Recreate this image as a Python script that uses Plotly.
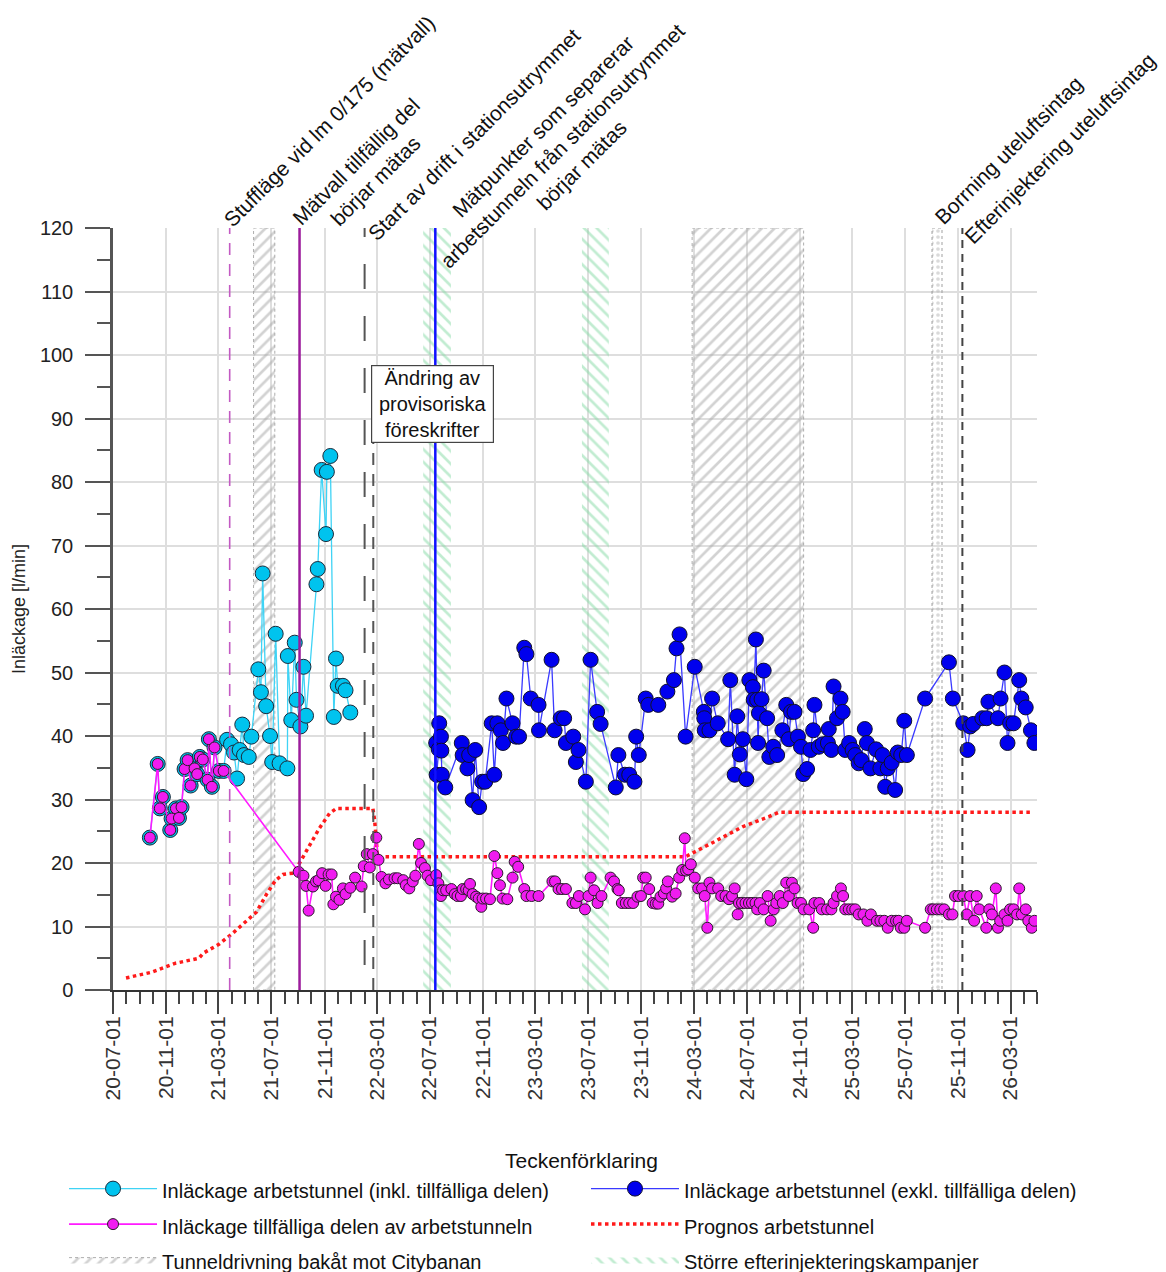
import plotly.graph_objects as go

# ------------------------------------------------------------------ data
inkl_dates = ["2020-09-24","2020-10-12","2020-10-17","2020-10-24","2020-11-10","2020-11-13","2020-11-23","2020-11-30",
              "2020-12-06","2020-12-13","2020-12-20","2020-12-27","2021-01-05","2021-01-11","2021-01-17","2021-01-24",
              "2021-02-04","2021-02-07","2021-02-14","2021-02-20","2021-03-02","2021-03-13",
              "2021-03-21","2021-03-30","2021-04-06","2021-04-13","2021-04-19","2021-04-25","2021-04-29","2021-05-10",
              "2021-05-16","2021-06-01","2021-06-07","2021-06-11","2021-06-19","2021-06-28","2021-07-03","2021-07-11",
              "2021-07-20","2021-08-07","2021-08-08","2021-08-16","2021-08-24","2021-08-28","2021-09-06","2021-09-13",
              "2021-09-19","2021-10-13","2021-10-16","2021-10-25","2021-11-04","2021-11-06","2021-11-14","2021-11-22",
              "2021-11-27","2021-12-01","2021-12-13","2021-12-19","2021-12-30"]
inkl_vals = [24.0,35.6,28.6,30.4,25.2,27.0,28.6,27.1,28.8,34.8,36.2,32.2,34.9,34.0,36.7,36.3,33.1,39.5,32.0,38.2,34.5,34.5,
             39.4,38.7,37.4,33.3,37.8,41.8,37.0,36.7,39.9,50.5,46.9,65.6,44.7,40.0,35.9,56.1,35.7,34.9,52.6,42.5,54.7,
             45.7,41.5,50.9,43.2,63.9,66.3,81.9,71.8,81.6,84.1,43.0,52.2,47.9,47.9,47.2,43.7]

tillf_dates = ["2020-09-24","2020-10-12","2020-10-17","2020-10-24","2020-11-10","2020-11-13","2020-11-23","2020-11-30",
               "2020-12-06","2020-12-13","2020-12-20","2020-12-27","2021-01-05","2021-01-11","2021-01-17","2021-01-24",
               "2021-02-04","2021-02-07","2021-02-14","2021-02-20","2021-03-02","2021-03-13",
               "2021-09-02","2021-09-13","2021-09-19","2021-09-25","2021-10-05","2021-10-12","2021-10-18","2021-10-26",
               "2021-11-03","2021-11-10","2021-11-17","2021-11-21","2021-11-27","2021-12-05","2021-12-13","2021-12-19",
               "2021-12-30","2022-01-10","2022-01-25","2022-01-30","2022-02-06","2022-02-13","2022-02-20","2022-02-28",
               "2022-03-05","2022-03-12","2022-03-21","2022-03-29","2022-04-11","2022-04-18","2022-05-01","2022-05-07",
               "2022-05-15","2022-05-23","2022-05-29","2022-06-06","2022-06-11","2022-06-20","2022-06-26","2022-07-04",
               "2022-07-16","2022-07-21","2022-07-26","2022-07-27","2022-08-01","2022-08-08","2022-08-20","2022-08-28",
               "2022-09-03","2022-09-11","2022-09-15","2022-09-23","2022-09-29","2022-10-02","2022-10-08","2022-10-16",
               "2022-10-22","2022-10-28","2022-10-31","2022-11-08","2022-11-17","2022-11-27","2022-12-04","2022-12-10",
               "2022-12-16","2022-12-27","2023-01-08","2023-01-13","2023-01-21","2023-02-04","2023-02-09","2023-02-21",
               "2023-03-09","2023-04-10","2023-04-16","2023-04-24","2023-05-02","2023-05-11","2023-05-26","2023-06-03",
               "2023-06-10","2023-06-24","2023-07-02","2023-07-07","2023-07-15","2023-07-23","2023-08-01","2023-08-22",
               "2023-08-30","2023-09-07","2023-09-10","2023-09-17","2023-09-26","2023-10-04","2023-10-13","2023-10-23",
               "2023-10-31","2023-11-05","2023-11-11","2023-11-19","2023-11-27","2023-12-04","2023-12-10","2023-12-15",
               "2023-12-23","2023-12-28","2024-01-01","2024-01-11","2024-01-19","2024-01-27","2024-02-03","2024-02-09",
               "2024-02-12","2024-02-17","2024-02-23","2024-03-03","2024-03-11","2024-03-20","2024-03-26","2024-04-01",
               "2024-04-06","2024-04-12","2024-04-26","2024-05-03","2024-05-13","2024-05-21","2024-05-28","2024-06-03",
               "2024-06-10","2024-06-13","2024-06-20","2024-06-28","2024-07-06","2024-07-13","2024-07-21","2024-07-25",
               "2024-07-31","2024-08-09","2024-08-18","2024-08-25","2024-09-01","2024-09-07","2024-09-15","2024-09-22",
               "2024-09-30","2024-10-06","2024-10-13","2024-10-19","2024-10-26","2024-11-03","2024-11-09","2024-11-22",
               "2024-12-01","2024-12-04","2024-12-15","2024-12-21","2025-01-02","2025-01-12","2025-01-17","2025-01-25",
               "2025-02-03","2025-02-08","2025-02-13","2025-02-21","2025-03-01","2025-03-08","2025-03-16","2025-03-27",
               "2025-04-05","2025-04-13","2025-04-27","2025-05-05","2025-05-14","2025-05-22","2025-05-31","2025-06-10",
               "2025-06-16","2025-06-21","2025-06-29","2025-07-05","2025-08-16","2025-08-29","2025-09-04","2025-09-12",
               "2025-09-20","2025-09-29","2025-10-10","2025-10-18","2025-10-24","2025-11-01","2025-11-12","2025-11-20",
               "2025-11-28","2025-12-07","2025-12-13","2025-12-19","2026-01-04","2026-01-11","2026-01-17","2026-01-26",
               "2026-01-31","2026-02-05","2026-02-15","2026-02-22","2026-02-28","2026-03-08","2026-03-16","2026-03-21",
               "2026-03-27","2026-04-05","2026-04-11","2026-04-19","2026-04-25"]
tillf_vals = [24.0,35.6,28.6,30.4,25.2,27.0,28.6,27.1,28.8,34.8,36.2,32.2,34.9,34.0,36.7,36.3,33.1,39.5,32.0,38.2,34.5,34.5,
              18.6,18.0,16.4,12.5,16.3,17.1,17.3,18.4,16.4,18.2,18.2,13.5,14.7,14.2,16.0,15.1,
              16.1,17.7,16.3,19.5,21.4,19.3,21.4,24.0,20.5,17.8,16.8,17.4,17.6,17.6,17.3,16.5,
              16.0,17.1,18.0,23.0,20.0,19.2,18.0,17.3,18.1,16.8,15.7,14.8,15.7,15.7,15.9,15.1,
              14.8,14.8,15.9,15.9,15.7,16.7,15.1,14.7,14.4,13.1,14.4,14.4,14.3,21.1,18.4,16.5,
              14.4,14.3,17.7,20.2,19.4,15.9,14.8,14.8,14.8,17.1,17.1,15.9,15.9,15.9,13.7,13.7,
              14.8,12.7,14.8,17.7,15.7,13.7,14.8,17.7,17.1,15.9,15.7,13.7,13.7,13.7,13.7,14.7,
              14.8,17.7,17.7,15.9,13.7,13.6,13.6,14.7,15.2,16.0,17.1,14.7,15.2,17.7,18.9,23.9,
              18.8,19.0,19.8,17.7,16.0,16.0,14.8,9.8,16.9,16.0,16.0,14.8,14.8,14.3,14.8,16.0,
              11.9,13.7,13.7,13.7,13.7,13.7,13.7,12.7,13.7,12.7,14.8,10.9,12.7,13.7,14.8,13.7,
              16.9,14.8,16.9,16.0,13.7,13.7,12.7,12.7,9.8,13.7,13.7,12.7,12.7,12.7,13.7,14.8,
              16.0,14.8,12.7,12.7,12.7,12.7,11.9,11.9,10.9,11.9,10.9,10.9,10.9,9.8,10.9,10.9,
              10.9,9.8,9.8,10.9,9.8,12.7,12.7,12.7,12.7,12.7,11.9,11.9,14.8,14.8,14.8,11.9,
              14.8,10.9,14.8,12.7,9.8,12.7,11.9,16.0,9.8,10.9,11.9,10.9,12.7,12.7,11.9,16.0,
              11.9,12.7,10.9,9.8,10.9]

exkl_dates = ["2022-07-16","2022-07-17","2022-07-22","2022-07-23","2022-07-27","2022-07-28","2022-07-29","2022-08-06",
              "2022-09-13","2022-09-15","2022-09-26","2022-09-30","2022-10-08","2022-10-14","2022-10-23","2022-10-30",
              "2022-11-06","2022-11-21","2022-11-27","2022-12-04","2022-12-12","2022-12-17","2022-12-25","2023-01-08",
              "2023-01-16","2023-01-23","2023-02-04","2023-02-09","2023-02-19","2023-03-09","2023-03-10","2023-04-08",
              "2023-04-15","2023-04-29","2023-05-07","2023-05-11","2023-05-28","2023-06-03","2023-06-09","2023-06-26",
              "2023-07-07","2023-07-22","2023-07-30","2023-09-03","2023-09-09","2023-09-24","2023-10-04","2023-10-16",
              "2023-10-20","2023-10-26","2023-11-11","2023-11-17","2023-12-10","2023-12-31","2024-01-15","2024-01-21",
              "2024-01-28","2024-02-11","2024-03-03","2024-03-24","2024-03-25","2024-03-26","2024-04-06","2024-04-12",
              "2024-04-25","2024-05-19","2024-05-24","2024-06-03","2024-06-09","2024-06-15","2024-06-22","2024-06-30",
              "2024-07-07","2024-07-15","2024-07-17","2024-07-22","2024-07-25","2024-07-27","2024-07-29","2024-08-04",
              "2024-08-09","2024-08-17","2024-08-22","2024-08-31","2024-09-09","2024-09-21","2024-09-30","2024-10-06",
              "2024-10-11","2024-10-19","2024-10-27","2024-11-03","2024-11-08","2024-11-17","2024-11-25","2024-12-01",
              "2024-12-04","2024-12-14","2024-12-23","2025-01-04","2025-01-06","2025-01-12","2025-01-17","2025-01-25",
              "2025-02-02","2025-02-07","2025-02-13","2025-02-22","2025-03-02","2025-03-08","2025-03-16","2025-03-22",
              "2025-03-30","2025-04-04","2025-04-12","2025-04-25","2025-05-05","2025-05-10","2025-05-16","2025-05-22",
              "2025-05-31","2025-06-08","2025-06-14","2025-06-22","2025-06-29","2025-07-05","2025-08-16","2025-10-10",
              "2025-10-19","2025-11-12","2025-11-22","2025-11-28","2025-12-05","2025-12-26","2026-01-05","2026-01-09",
              "2026-01-31","2026-02-06","2026-02-15","2026-02-22","2026-02-28","2026-03-08","2026-03-21","2026-03-26",
              "2026-04-05","2026-04-17","2026-04-25"]
exkl_vals = [38.9,33.9,37.9,42.0,39.9,37.7,33.9,31.9,38.9,37.0,34.9,37.0,29.9,37.8,28.8,32.8,
             32.8,42.0,33.9,42.0,40.9,38.9,45.9,42.0,39.9,39.9,53.9,52.9,45.9,44.9,40.9,52.0,
             40.9,42.8,42.8,38.9,39.9,35.9,37.8,32.8,52.0,43.8,41.9,31.9,37.0,33.9,33.9,32.8,
             39.9,37.0,45.9,44.9,44.9,47.0,48.8,53.8,56.0,39.9,50.9,43.8,42.8,40.9,40.9,45.9,
             42.0,39.5,48.8,33.9,43.1,37.1,39.5,33.2,48.8,47.7,45.7,55.2,45.7,38.9,43.6,45.8,
             50.3,42.8,36.7,38.3,37.0,40.9,44.9,39.5,43.8,43.8,39.9,38.3,34.0,34.8,37.8,40.9,
             44.9,38.3,38.7,38.9,41.1,37.8,47.8,42.8,45.9,43.8,37.8,38.9,37.8,37.0,35.7,36.2,
             41.1,38.9,34.9,37.9,34.9,37.0,32.0,34.9,35.8,31.5,37.4,37.0,42.4,37.0,45.9,51.6,
             45.9,42.0,37.8,41.5,41.9,42.8,42.8,45.4,42.8,45.9,50.0,38.9,42.0,42.0,48.8,45.9,
             44.5,40.9,38.9]

prognos_dates = ["2020-07-31","2020-09-28","2020-11-21","2021-01-15","2021-01-25","2021-03-02","2021-04-04",
                 "2021-05-07","2021-05-28","2021-06-20","2021-07-11","2021-07-28","2021-08-20","2021-09-04",
                 "2021-09-27","2021-10-20","2021-11-12","2021-11-28","2022-02-20","2022-02-24","2022-03-03",
                 "2024-02-11","2024-04-13","2024-06-21","2024-08-21","2024-09-13","2026-04-18"]
prognos_vals = [1.9,2.8,4.2,5.0,5.8,7.2,9.0,11.1,12.3,15.1,17.3,18.2,18.4,20.0,22.8,25.5,27.8,28.6,28.6,26.8,
                21.0,21.0,23.2,25.7,27.3,28.0,28.0]

# shaded periods
drivning_start = ["2021-05-21", "2024-02-26"]
drivning_end = ["2021-07-09", "2024-11-09"]
injekt_start = ["2022-06-16", "2023-06-17"]
injekt_end = ["2022-08-19", "2023-08-18"]
borrning_start = ["2025-09-01"]
borrning_end = ["2025-09-24"]

# events
stuff_date = "2021-03-27"
matvall_date = "2021-09-04"
drift_date = "2022-02-01"
andring_date = "2022-02-21"
matpunkt_date = "2022-07-14"
efterinj_date = "2025-11-10"

Y_MIN, Y_MAX = 0, 120
X_RANGE = ["2020-07-01", "2026-05-01"]

FONT = "Liberation Sans, Arial, sans-serif"


def band_xy(starts, ends):
    xs, ys = [], []
    for s, e in zip(starts, ends):
        xs += [s, s, e, e, s, None]
        ys += [Y_MIN, Y_MAX, Y_MAX, Y_MIN, Y_MIN, None]
    return xs, ys


def lname(t):
    return '<span style="font-size:20px">' + t + '</span>'


fig = go.Figure()

# hatched periods
bx, by = band_xy(drivning_start, drivning_end)
fig.add_trace(go.Scatter(
    x=bx, y=by, mode="lines", fill="toself", name=lname("Tunneldrivning bakåt mot Citybanan"),
    line=dict(color="rgba(165,165,165,0.9)", width=1, dash="dot"),
    fillcolor="rgba(0,0,0,0)",
    fillpattern=dict(shape="/", fgcolor="#a6a6a6", bgcolor="rgba(255,255,255,0)", size=9, solidity=0.3),
    hoverinfo="skip", legend="legend", legendrank=3))
gx, gy = band_xy(injekt_start, injekt_end)
fig.add_trace(go.Scatter(
    x=gx, y=gy, mode="lines", fill="toself", name=lname("Större efterinjekteringskampanjer"),
    line=dict(color="rgba(0,0,0,0)", width=0),
    fillcolor="rgba(0,0,0,0)",
    fillpattern=dict(shape="\\", fgcolor="#84d9a4", bgcolor="rgba(255,255,255,0)", size=9, solidity=0.3),
    hoverinfo="skip", legend="legend2", legendrank=3))
dx, dy = band_xy(borrning_start, borrning_end)
fig.add_trace(go.Scatter(
    x=dx, y=dy, mode="lines", fill="toself", name="Borrning uteluftsintag",
    line=dict(color="rgba(150,150,150,0.9)", width=1, dash="dot"),
    fillcolor="rgba(0,0,0,0)",
    fillpattern=dict(shape=".", fgcolor="#b5b5b5", bgcolor="rgba(255,255,255,0)", size=6, solidity=0.3),
    hoverinfo="skip", showlegend=False))

# prognos
fig.add_trace(go.Scatter(
    x=prognos_dates, y=prognos_vals, mode="lines", name=lname("Prognos arbetstunnel"),
    line=dict(color="#ff1a1a", width=3.5, dash="3.5px,3.5px"), legend="legend2", legendrank=2))

# leakage series
fig.add_trace(go.Scatter(
    x=inkl_dates, y=inkl_vals, mode="lines+markers",
    name=lname("Inläckage arbetstunnel (inkl. tillfälliga delen)"),
    line=dict(color="#3fd3f5", width=1.3),
    marker=dict(size=15, color="#00c3ee", line=dict(color="#1b2a3a", width=1)),
    legend="legend", legendrank=1))
fig.add_trace(go.Scatter(
    x=tillf_dates, y=tillf_vals, mode="lines+markers",
    name=lname("Inläckage tillfälliga delen av arbetstunneln"),
    line=dict(color="#ff1aff", width=1.6),
    marker=dict(size=11, color="#f01cf0", line=dict(color="#2a1a2a", width=1)),
    legend="legend", legendrank=2))
fig.add_trace(go.Scatter(
    x=exkl_dates, y=exkl_vals, mode="lines+markers",
    name=lname("Inläckage arbetstunnel (exkl. tillfälliga delen)"),
    line=dict(color="#3a3aff", width=1.3),
    marker=dict(size=15, color="#0000ee", line=dict(color="#10102a", width=1)),
    legend="legend2", legendrank=1))

# event lines
def vline(x, color, width, dash, y0=Y_MIN, y1=Y_MAX):
    fig.add_shape(type="line", xref="x", yref="y", x0=x, x1=x, y0=y0, y1=y1,
                  line=dict(color=color, width=width, dash=dash), layer="above")

vline(stuff_date, "#c35ac3", 1.6, "12px,9px")
vline(matvall_date, "#9c1c9c", 2.5, "solid")
vline(drift_date, "#555555", 2, "0px,25px,25px,2px")
vline(andring_date, "#555555", 2, "12px,9px", y1=86.5)
vline(matpunkt_date, "#1010ff", 2.5, "solid")
vline(efterinj_date, "#444444", 2, "8px,6px")

# rotated event labels
def label(x, text, xs, ys):
    fig.add_annotation(x=x, y=Y_MAX, xref="x", yref="y", text=text, showarrow=False,
                       textangle=-45, xanchor="center", yanchor="middle", align="center",
                       xshift=xs, yshift=ys, font=dict(size=21, color="#111", family=FONT))

label(stuff_date, "Stuffläge vid lm 0/175 (mätvall)", 99, 107)
label(matvall_date, "Mätvall tillfällig del<br>börjar mätas", 66, 57)
label(drift_date, "Start av drift i stationsutrymmet", 109, 94)
label(matpunkt_date, "Mätpunkter som separerar<br>arbetstunneln från stationsutrymmet<br>börjar mätas", 127, 82)
label(borrning_start[0], "Borrning uteluftsintag", 76, 78)
label(efterinj_date, "Efterinjektering uteluftsintag", 97, 80)

fig.add_annotation(x=andring_date, y=98.4, xref="x", yref="y", xanchor="left", yanchor="top",
                   xshift=-2, text="Ändring av<br>provisoriska<br>föreskrifter", showarrow=False,
                   align="center", bgcolor="white", bordercolor="#444", borderwidth=1.2, borderpad=1,
                   width=119, font=dict(size=20, color="#111", family=FONT))

# legend title
fig.add_annotation(x=0.5065, y=-0.2231, xref="paper", yref="paper", xanchor="center", yanchor="middle",
                   text="Teckenförklaring", showarrow=False, font=dict(size=21, color="#111", family=FONT))

leg_common = dict(orientation="v", xanchor="left", yanchor="top", itemwidth=88,
                  font=dict(size=25, color="#111"), bgcolor="rgba(0,0,0,0)", traceorder="normal")

fig.update_layout(
    width=1166, height=1272, autosize=False,
    margin=dict(l=105, r=137, t=220, b=290, autoexpand=False),
    paper_bgcolor="white", plot_bgcolor="white",
    font=dict(family=FONT, size=19, color="#222"),
    showlegend=True,
    legend=dict(x=-0.053, y=-0.2308, **leg_common),
    legend2=dict(x=0.5119, y=-0.2308, **leg_common),
    xaxis=dict(range=X_RANGE, type="date", tickformat="%y-%m-%d", dtick="M4", tick0="2020-07-01",
               tickangle=-90, ticks="outside", ticklen=22, tickwidth=1.5, tickcolor="#444",
               tickfont=dict(size=21, color="#333"), ticklabelstandoff=-6,
               showgrid=True, gridcolor="#dedede", gridwidth=1.5,
               showline=True, linecolor="#333", linewidth=2, zeroline=False,
               minor=dict(dtick="M1", ticks="outside", ticklen=12, tickwidth=1.5, tickcolor="#444", showgrid=False)),
    yaxis=dict(range=[Y_MIN, Y_MAX], dtick=10, ticks="outside", ticklen=25, tickwidth=2, tickcolor="#555",
               tickfont=dict(size=20, color="#222"), ticklabelstandoff=8,
               showgrid=True, gridcolor="#dedede", gridwidth=1.5,
               showline=True, linecolor="#555", linewidth=2.5, zeroline=False,
               title=dict(text="Inläckage [l/min]", font=dict(size=18, color="#222"), standoff=10),
               minor=dict(dtick=5, ticks="outside", ticklen=13, tickwidth=2, tickcolor="#555", showgrid=False)),
)

fig.write_html("out.html")
